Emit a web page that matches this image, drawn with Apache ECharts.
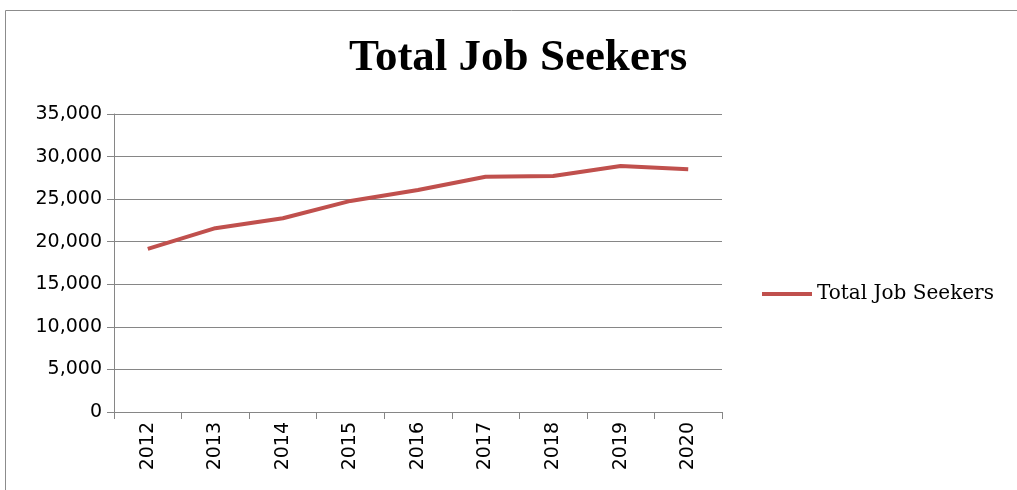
<!DOCTYPE html>
<html><head><meta charset="utf-8">
<script src="https://cdn.jsdelivr.net/npm/echarts@6/dist/echarts.min.js"></script>
<style>html,body{margin:0;padding:0;background:#fff}#c{width:1017px;height:490px}</style>
</head><body><div id="c"></div>
<script>
const categories = ['2012','2013','2014','2015','2016','2017','2018','2019','2020'];
const seekers = [19160, 21590, 22760, 24790, 26080, 27640, 27730, 28900, 28510];
const seriesName = 'Total Job Seekers';
const chartTitle = 'Total Job Seekers';

const chart = echarts.init(document.getElementById('c'));
chart.setOption({
  animation: false,
  backgroundColor: '#fff',
  graphic: [{type:'rect', shape:{x:5.5,y:10.5,width:1030,height:500}, style:{fill:'none', stroke:'#8c8c8c', lineWidth:1}}],
  title: {text: chartTitle, left: 344, top: 31,
    textStyle:{fontFamily:'Liberation Serif', fontWeight:'bold', fontSize:45, color:'#000'}},
  legend: {orient:'vertical', left: 757, top: 279, itemWidth: 50, itemHeight: 4, itemGap: 6,
    icon: 'rect',
    textStyle:{fontFamily:'DejaVu Serif', fontSize:20, color:'#000'},
    data:[seriesName]},
  grid: {left:114, right:295, top:114, bottom:78, containLabel:false},
  xAxis: {type:'category', data: categories, boundaryGap: true,
    axisLine:{lineStyle:{color:'#868686', width:1}},
    axisTick:{show:true, alignWithLabel:false, length:7, lineStyle:{color:'#868686'}},
    axisLabel:{rotate:90, fontFamily:'DejaVu Sans', fontSize:19, color:'#000', margin:10}},
  yAxis: {type:'value', min:0, max:35000, interval:5000,
    axisLine:{show:true, lineStyle:{color:'#868686'}},
    axisTick:{show:true, length:7, lineStyle:{color:'#868686'}},
    splitLine:{lineStyle:{color:'#868686', width:1}},
    axisLabel:{fontFamily:'DejaVu Sans', fontSize:19, color:'#000', margin:12,
      formatter: v => v.toLocaleString('en-US')}},
  series: [{name: seriesName, type:'line', data: seekers, symbol:'none',
    lineStyle:{color:'#C0504D', width:4}, itemStyle:{color:'#C0504D'}}]
});
</script></body></html>
